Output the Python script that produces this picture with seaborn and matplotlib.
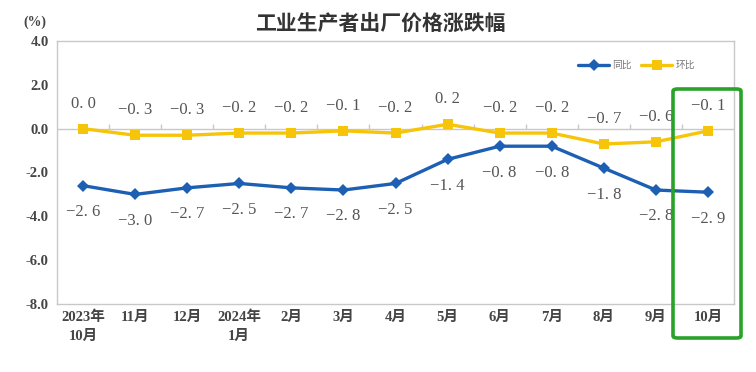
import numpy as np
import pandas as pd
import matplotlib
matplotlib.use("Agg")
import matplotlib.pyplot as plt
from matplotlib.patches import FancyBboxPatch
import seaborn as sns

months = ["2023年\n10月", "11月", "12月", "2024年\n1月", "2月", "3月", "4月",
          "5月", "6月", "7月", "8月", "9月", "10月"]
yoy = [-2.6, -3.0, -2.7, -2.5, -2.7, -2.8, -2.5, -1.4, -0.8, -0.8, -1.8, -2.8, -2.9]
mom = [0.0, -0.3, -0.3, -0.2, -0.2, -0.1, -0.2, 0.2, -0.2, -0.2, -0.7, -0.6, -0.1]
y_ticks = [4.0, 2.0, 0.0, -2.0, -4.0, -6.0, -8.0]

BLUE = "#1c5fb3"
YELLOW = "#f6c509"

sns.set_theme(style="white")
plt.rcParams["font.family"] = ["Liberation Serif", "Noto Sans CJK SC", "DejaVu Sans"]

df = pd.DataFrame({
    "idx": list(range(len(months))) * 2,
    "value": yoy + mom,
    "series": ["同比"] * len(yoy) + ["环比"] * len(mom),
})

W, H = 756, 372
fig = plt.figure(figsize=(W / 100, H / 100), dpi=100)
ax = fig.add_axes([57 / W, (H - 304) / H, 677 / W, 263 / H])

sns.lineplot(data=df, x="idx", y="value", hue="series", style="series",
             palette={"同比": BLUE, "环比": YELLOW},
             markers={"同比": "D", "环比": "s"}, dashes=False,
             linewidth=2.4, markersize=6.5, markeredgewidth=0, ax=ax, legend=True)

ax.set_xlim(-0.5, len(months) - 0.5)
ax.set_ylim(-8, 4)
ax.set_yticks(y_ticks)
ax.set_yticklabels([f"{t:.1f}" for t in y_ticks], fontsize=10.5, fontweight="bold",
                   color="#444444")
ax.set_xticks(range(len(months)))
ax.set_xticklabels(months, fontsize=10.5, fontweight="bold", color="#444444",
                   linespacing=1.55)
ax.tick_params(axis="x", length=0, pad=5)
ax.tick_params(axis="y", direction="in", length=4, color="#bbbbbb", pad=6)
ax.set_xlabel("")
ax.set_ylabel("")
for s in ax.spines.values():
    s.set_color("#c8c8c8")
    s.set_linewidth(1)

# zero line with category-boundary ticks
ax.axhline(0, color="#c8c8c8", lw=1, zorder=0)
ax.vlines(np.arange(0.5, len(months) - 1), 0, 0.22, color="#c8c8c8", lw=1, zorder=0)

def fmt(v):
    return f"{v:.1f}".replace("-", "−").replace(".", ". ")

for i, v in enumerate(mom):
    ax.annotate(fmt(v), (i, v), xytext=(0, 18), textcoords="offset points",
                ha="center", va="center", fontsize=12, color="#555555")
for i, v in enumerate(yoy):
    ax.annotate(fmt(v), (i, v), xytext=(0, -19), textcoords="offset points",
                ha="center", va="center", fontsize=12, color="#555555")

leg = ax.legend(loc="upper right", bbox_to_anchor=(0.955, 0.96), ncol=2, frameon=False,
                prop={"family": "Noto Sans CJK SC", "size": 7}, handlelength=3.2,
                columnspacing=1.0, handletextpad=0.3)
for t in leg.get_texts():
    t.set_color("#777777")

fig.text(380 / W, 1 - 24 / H, "工业生产者出厂价格涨跌幅", ha="center", va="center",
         fontsize=15, fontweight="bold", color="#333333", family="Noto Sans CJK SC")
fig.text(35 / W, 1 - 22 / H, "(%)", ha="center", va="center", fontsize=10,
         fontweight="bold", color="#444444")

# highlight box on the latest month
box = FancyBboxPatch((673 / W, 1 - 338 / H), 68 / W, 249 / H,
                     boxstyle="round,pad=0,rounding_size=0.006",
                     transform=fig.transFigure, fill=False, edgecolor="#2aa22a",
                     linewidth=2.6, clip_on=False)
fig.patches.append(box)

fig.savefig("out.png", dpi=100)
